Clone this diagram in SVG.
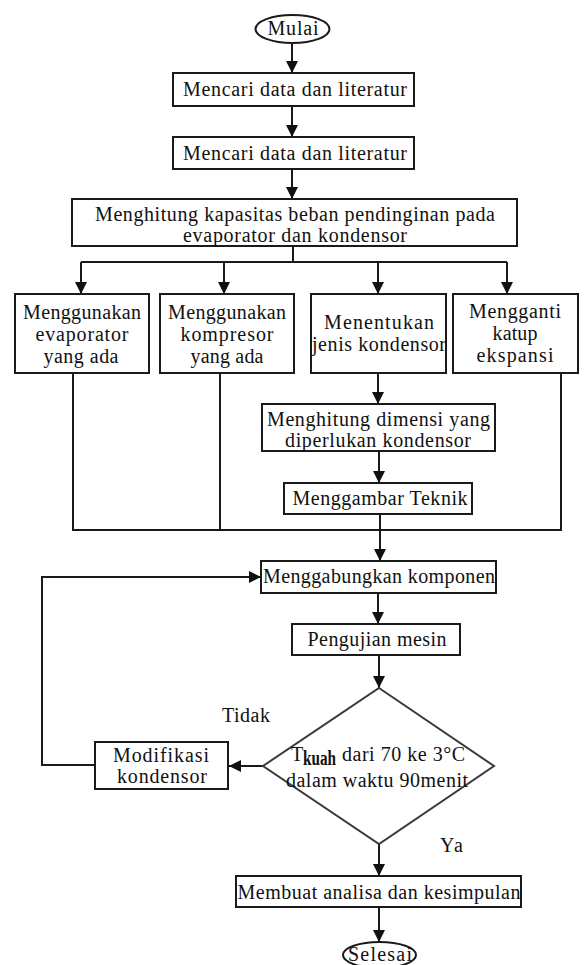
<svg xmlns="http://www.w3.org/2000/svg" width="584" height="965" viewBox="0 0 584 965" font-family="'Liberation Serif', 'DejaVu Serif', 'Times New Roman', serif">
<style>
.box{fill:#fff;stroke:#1a1a1a;stroke-width:2}
.dia{fill:#fff;stroke:#3a3a3a;stroke-width:2}
text{font-family:'Liberation Serif','DejaVu Serif','Times New Roman',serif}
.t{font-size:20px;fill:#111;text-anchor:middle}
.lbl{font-size:20px;fill:#111}
.c{stroke:#1a1a1a;stroke-width:2;fill:none}
.a{marker-end:url(#ah)}
</style>
<defs>
<marker id="ah" viewBox="0 0 12 12" refX="12" refY="6" markerWidth="12" markerHeight="12" markerUnits="userSpaceOnUse" orient="auto">
<path d="M0,0 L12,6 L0,12 z" fill="#111"/>
</marker>
</defs>
<rect width="584" height="965" fill="#fff"/>
<g id="connectors">
<line class="c a" x1="292" y1="43" x2="292" y2="73"/>
<line class="c a" x1="292" y1="106" x2="292" y2="137"/>
<line class="c a" x1="292" y1="169" x2="292" y2="199"/>
<polyline class="c" points="293,246 293,262"/>
<line class="c" x1="81" y1="262" x2="507" y2="262"/>
<line class="c a" x1="81" y1="262" x2="81" y2="294"/>
<line class="c a" x1="224" y1="262" x2="224" y2="294"/>
<line class="c a" x1="378" y1="262" x2="378" y2="294"/>
<line class="c a" x1="507" y1="262" x2="507" y2="294"/>
<line class="c" x1="73" y1="373" x2="73" y2="530"/>
<line class="c" x1="220" y1="373" x2="220" y2="530"/>
<line class="c" x1="561" y1="373" x2="561" y2="530"/>
<line class="c" x1="72" y1="530" x2="562" y2="530"/>
<line class="c a" x1="378" y1="373" x2="378" y2="404"/>
<line class="c a" x1="379" y1="451" x2="379" y2="483"/>
<line class="c a" x1="380" y1="514" x2="380" y2="561"/>
<line class="c a" x1="378" y1="593" x2="378" y2="624"/>
<line class="c a" x1="379" y1="655" x2="379" y2="688"/>
<line class="c a" x1="263" y1="766" x2="229" y2="766"/>
<polyline class="c a" points="95,765 42,765 42,577 261,577"/>
<line class="c a" x1="379" y1="844" x2="379" y2="876"/>
<line class="c a" x1="379" y1="907" x2="379" y2="942"/>
</g>
<g id="mulai">
<ellipse class="box" cx="292.5" cy="29" rx="37" ry="14"/>
<text class="t" x="293" y="35" textLength="51">Mulai</text>
</g>
<g id="mencari1">
<rect class="box" x="173" y="73" width="241" height="33"/>
<text class="t" x="295" y="96" textLength="224">Mencari data dan literatur</text>
</g>
<g id="mencari2">
<rect class="box" x="173" y="137" width="241" height="32"/>
<text class="t" x="295" y="160" textLength="224">Mencari data dan literatur</text>
</g>
<g id="menghitung-kapasitas">
<rect class="box" x="72" y="199" width="445" height="47"/>
<text class="t" x="295" y="221" textLength="400">Menghitung kapasitas beban pendinginan pada</text>
<text class="t" x="295" y="242" textLength="224">evaporator dan kondensor</text>
</g>
<g id="evaporator">
<rect class="box" x="15" y="294" width="134" height="79"/>
<text class="t" x="82" y="319" textLength="118">Menggunakan</text>
<text class="t" x="82" y="341" textLength="93">evaporator</text>
<text class="t" x="81" y="363" textLength="75">yang ada</text>
</g>
<g id="kompresor">
<rect class="box" x="160" y="294" width="134" height="79"/>
<text class="t" x="227" y="319" textLength="118">Menggunakan</text>
<text class="t" x="227" y="341" textLength="93">kompresor</text>
<text class="t" x="227" y="363" textLength="73">yang ada</text>
</g>
<g id="jenis-kondensor">
<rect class="box" x="311" y="294" width="135" height="79"/>
<text class="t" x="379" y="329" textLength="110">Menentukan</text>
<text class="t" x="379" y="351" textLength="134">jenis kondensor</text>
</g>
<g id="katup">
<rect class="box" x="453" y="294" width="125" height="79"/>
<text class="t" x="515" y="318" textLength="92">Mengganti</text>
<text class="t" x="515" y="340" textLength="45">katup</text>
<text class="t" x="515" y="362" textLength="77">ekspansi</text>
</g>
<g id="dimensi">
<rect class="box" x="262" y="404" width="233" height="47"/>
<text class="t" x="378.5" y="426" textLength="223">Menghitung dimensi yang</text>
<text class="t" x="378" y="447" textLength="186">diperlukan kondensor</text>
</g>
<g id="menggambar">
<rect class="box" x="284" y="483" width="188" height="31"/>
<text class="t" x="380" y="505" textLength="175">Menggambar Teknik</text>
</g>
<g id="menggabungkan">
<rect class="box" x="261" y="561" width="235" height="32"/>
<text class="t" x="379" y="583" textLength="232">Menggabungkan komponen</text>
</g>
<g id="pengujian">
<rect class="box" x="292" y="624" width="168" height="31"/>
<text class="t" x="377" y="646" textLength="139">Pengujian mesin</text>
</g>
<g id="keputusan">
<polygon class="dia" points="379,688 494,766 379,844 263,766"/>
<text class="lbl" x="291" y="761" textLength="11">T</text>
<text class="lbl" x="303" y="765" font-size="13" font-weight="bold" textLength="33" lengthAdjust="spacingAndGlyphs">kuah</text>
<text class="lbl" x="342" y="761" textLength="123">dari 70 ke 3°C</text>
<text class="t" x="377" y="787" textLength="182">dalam waktu 90menit</text>
</g>
<g id="modifikasi">
<rect class="box" x="95" y="742" width="133" height="47"/>
<text class="t" x="161" y="762" textLength="96">Modifikasi</text>
<text class="t" x="162" y="783" textLength="90">kondensor</text>
</g>
<g id="label-tidak">
<text class="lbl" x="222" y="722" textLength="48">Tidak</text>
</g>
<g id="label-ya">
<text class="lbl" x="440" y="852" textLength="23">Ya</text>
</g>
<g id="analisa">
<rect class="box" x="236" y="876" width="285" height="31"/>
<text class="t" x="379" y="899" textLength="283">Membuat analisa dan kesimpulan</text>
</g>
<g id="selesai">
<ellipse class="box" cx="379.5" cy="955" rx="36.5" ry="13"/>
<text class="t" x="380" y="961" textLength="64">Selesai</text>
</g>
</svg>
